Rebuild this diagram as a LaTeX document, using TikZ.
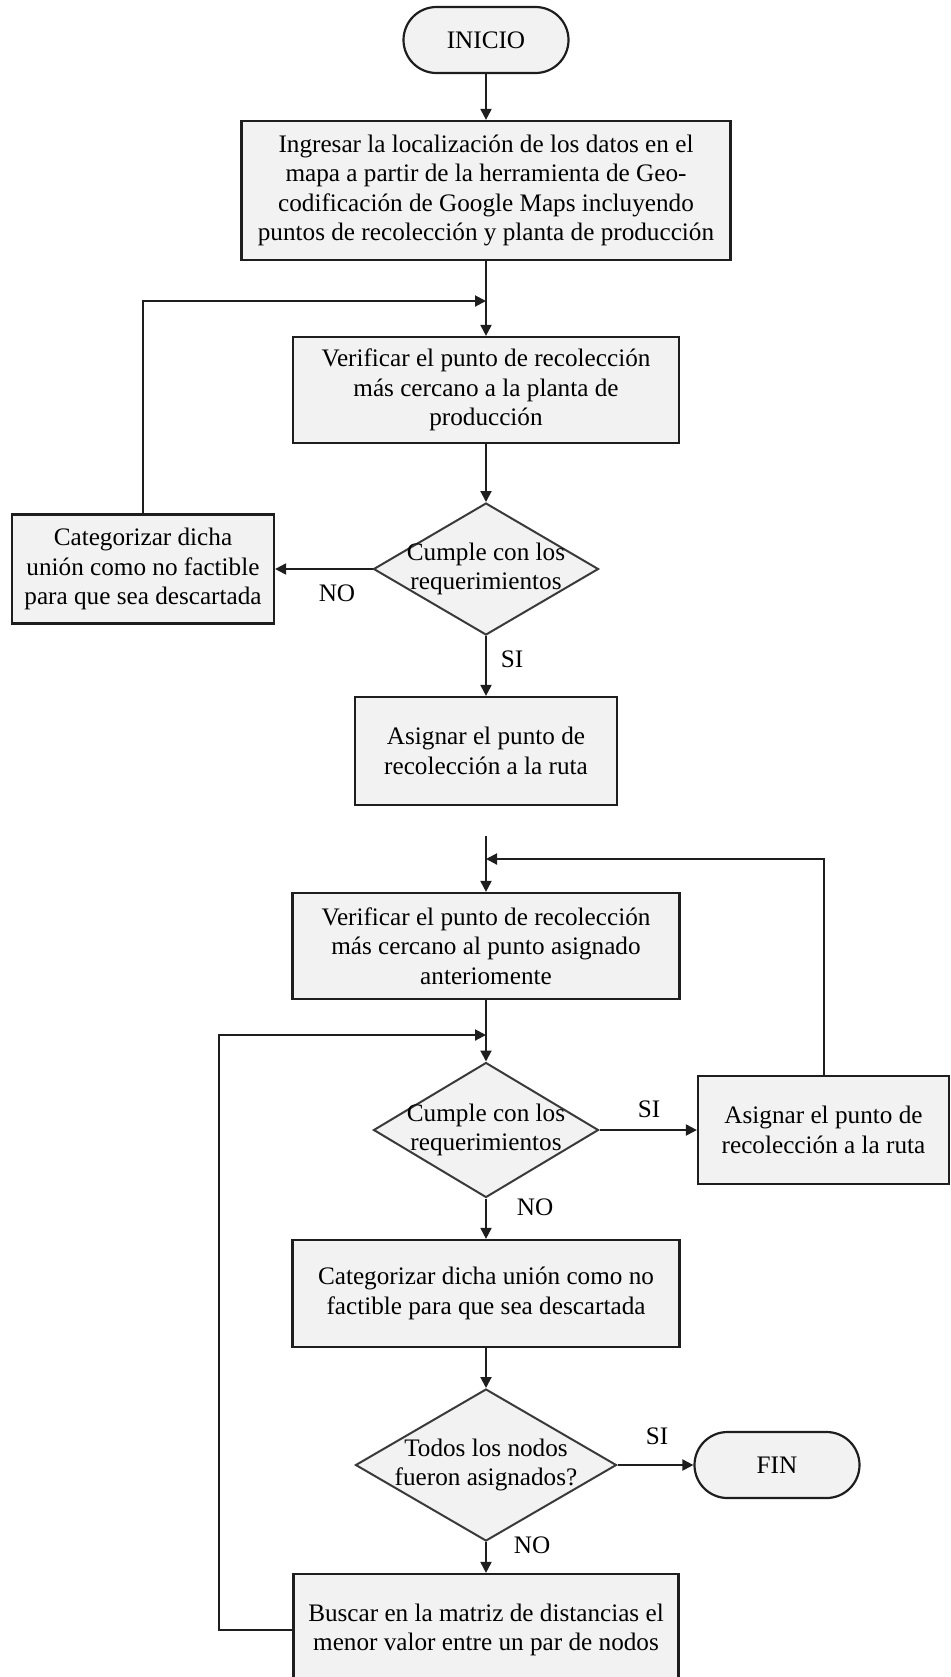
\documentclass[tikz,border=0pt]{standalone}
\usepackage{fontspec}
\setmainfont{Liberation Serif}
\usetikzlibrary{shapes.geometric,arrows.meta}
\definecolor{boxfill}{HTML}{F2F2F2}
\definecolor{edge}{HTML}{1E1E1E}
\definecolor{decedge}{HTML}{3A3A3A}
\begin{document}
\begin{tikzpicture}[x=0.5pt,y=-0.5pt,
  every node/.style={font=\fontsize{12.6}{14.65}\selectfont, text=black, align=center},
  proc/.style={draw=edge, line width=1.1pt, fill=boxfill, inner sep=0pt},
  term/.style={draw=edge, line width=1.1pt, fill=boxfill, rounded corners=16.5pt,
    minimum width=82.5pt, minimum height=33pt, inner sep=0pt},
  dec/.style={diamond, draw=decedge, line width=1pt, fill=boxfill, inner sep=0pt},
  flow/.style={draw=edge, line width=1pt, -{Triangle[length=5.5pt,width=5.5pt]}},
  lbl/.style={inner sep=0pt}
]
\useasboundingbox (0,0) rectangle (950,1677);
\clip (0,0) rectangle (950,1677);

% ---- first stage: nearest point to the plant
\node[term] (inicio) at (486,40) {INICIO};
\node[proc, minimum width=244.5pt, minimum height=69.5pt] (b1) at (486,190.5)
  {Ingresar la localización de los datos en el\\
   mapa a partir de la herramienta de Geo-\\
   codificación de Google Maps incluyendo\\
   puntos de recolección y planta de producción};
\node[proc, minimum width=193pt, minimum height=53pt] (b2) at (486,390)
  {Verificar el punto de recolección\\más cercano a la planta de\\producción};
\node[dec, minimum width=112.5pt, minimum height=66pt] (d1) at (486,569) {};
\node (d1t) at (d1) {Cumple con los\\requerimientos};
\node[proc, minimum width=131pt, minimum height=54.5pt] (nf1) at (143,569)
  {Categorizar dicha\\unión como no factible\\para que sea descartada};
\node[proc, minimum width=131pt, minimum height=54pt] (b3) at (486,751)
  {Asignar el punto de\\recolección a la ruta};

\coordinate (j1) at (486,301);
\draw[flow] (inicio.south) -- (b1.north);
\draw[flow] (b1.south) -- (b2.north);
\draw[flow] (nf1.north) |- (j1);
\draw[flow] (b2.south) -- (d1.north);
\draw[flow] (d1.west) -- (nf1.east);
\draw[flow] (d1.south) -- (b3.north);
\node[lbl] (no1) at (337,593) {NO};
\node[lbl] (si1) at (512,659) {SI};

% ---- second stage: build the route point by point
\coordinate (s2) at (486,836);
\coordinate (j2) at (486,859);
\coordinate (j3) at (486,1035);
\coordinate (c3) at (219,1035);
\node[proc, minimum width=193.5pt, minimum height=53pt] (b4) at (486,946)
  {Verificar el punto de recolección\\más cercano al punto asignado\\anteriomente};
\node[dec, minimum width=112.5pt, minimum height=67.5pt] (d2) at (486,1130) {};
\node (d2t) at (d2) {Cumple con los\\requerimientos};
\node[proc, minimum width=125.5pt, minimum height=54pt] (b5) at (823.5,1130)
  {Asignar el punto de\\recolección a la ruta};
\node[proc, minimum width=193.5pt, minimum height=53.5pt] (b6) at (486,1293.5)
  {Categorizar dicha unión como no\\factible para que sea descartada};
\node[dec, minimum width=130.5pt, minimum height=76pt] (d3) at (486,1465) {};
\node (d3t) at (d3) {Todos los nodos\\fueron asignados?};
\node[term] (fin) at (777,1465) {FIN};
\node[proc, minimum width=192.5pt, minimum height=56pt] (b7) at (486,1630)
  {Buscar en la matriz de distancias el\\menor valor entre un par de nodos};

\draw[flow] (s2) -- (b4.north);
\draw[flow] (b5.north) |- (j2);
\draw[flow] (b4.south) -- (d2.north);
\draw[flow] (d2.east) -- (b5.west);
\draw[flow] (d2.south) -- (b6.north);
\draw[flow] (b6.south) -- (d3.north);
\draw[flow] (d3.east) -- (fin.west);
\draw[flow] (d3.south) -- (b7.north);
\draw[flow] (b7.west) -| (c3) -- (j3);
\node[lbl] (si2) at (649,1109) {SI};
\node[lbl] (no2) at (535,1207) {NO};
\node[lbl] (si3) at (657,1436) {SI};
\node[lbl] (no3) at (532,1545) {NO};
\end{tikzpicture}
\end{document}
